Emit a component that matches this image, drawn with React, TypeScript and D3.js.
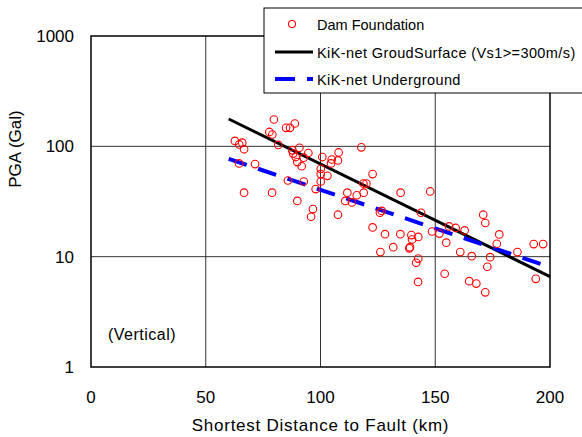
import React from 'react';
import * as d3 from 'd3';

// scatter: Dam Foundation (distance km, PGA Gal)
const damX = [
  79.7, 77.7, 79.0, 85.0, 86.7, 88.8, 62.7, 65.9, 64.6, 66.7, 81.6, 90.8, 87.7, 88.1, 94.7,
  92.7, 89.2, 89.9, 91.8, 100.8, 104.9, 104.6, 100.1, 100.1, 103.0, 100.1, 64.5, 71.5, 85.8,
  92.7, 97.9, 66.7, 78.9, 89.9, 96.7, 95.9, 117.8, 107.9, 107.6, 122.7, 118.7, 120.0, 118.8,
  111.7, 115.8, 110.8, 113.7, 134.9, 147.8, 107.6, 126.7, 125.9, 143.8, 122.7, 128.1, 134.8,
  139.6, 142.6, 139.9, 148.6, 151.8, 131.7, 139.0, 138.7, 126.1, 142.6, 141.7, 142.5, 170.9,
  171.8, 156.0, 158.9, 162.8, 177.9, 154.8, 176.8, 192.9, 197.0, 160.9, 185.8, 165.9, 173.9,
  172.7, 154.1, 193.8, 164.8, 167.9, 171.8,
];
const damY = [
  175, 135, 128, 147, 147, 161, 112, 108, 104, 94, 103, 97, 92, 86, 87,
  79, 80, 72, 66, 80, 76, 70, 62.5, 56, 54, 48, 70, 69, 49,
  48, 41, 38, 38, 32, 27, 23, 98, 88, 74.5, 56, 46, 46, 38,
  38, 36, 32, 31, 38, 39, 24, 26, 25, 25, 18.4, 16, 16,
  15.7, 15.1, 14.3, 16.9, 16.2, 12.2, 12.2, 11.9, 11, 9.6, 8.8, 5.9, 24,
  20.2, 18.8, 18.2, 17.3, 15.9, 13.4, 13.1, 13.0, 13.0, 11, 11, 10.1, 9.9,
  8.1, 7.0, 6.3, 6.0, 5.7, 4.75,
];

// regression lines (end points)
const surfX = [60, 200];
const surfY = [177, 6.6];
const underX = [60, 200];
const underY = [77, 8.05];

const xTicks = [0, 50, 100, 150, 200];
const yTicks = [1, 10, 100, 1000];
const legendLabels = [
  'Dam Foundation',
  'KiK-net GroudSurface (Vs1>=300m/s)',
  'KiK-net Underground',
];

const W = 582;
const H = 437;
const left = 91;
const right = 550;
const top = 36;
const bottom = 367;
const font = '"Liberation Sans", Arial, sans-serif';

export default function App() {
  const x = d3.scaleLinear().domain([0, 200]).range([left, right]);
  const y = d3.scaleLog().domain([1, 1000]).range([bottom, top]);

  const line = d3
    .line<[number, number]>()
    .x(d => x(d[0]))
    .y(d => y(d[1]));

  const surf = surfX.map((v, i) => [v, surfY[i]] as [number, number]);
  const under = underX.map((v, i) => [v, underY[i]] as [number, number]);

  return (
    <svg
      width={W}
      height={H}
      style={{ position: 'absolute', left: 0, top: 0, background: '#fff' }}
      fontFamily={font}
    >
      <rect width={W} height={H} fill="#fff" />
      {/* grid */}
      {xTicks.slice(1, -1).map(t => (
        <line key={'gx' + t} x1={x(t)} x2={x(t)} y1={top} y2={bottom} stroke="#333" strokeWidth={1} />
      ))}
      {yTicks.slice(1, -1).map(t => (
        <line key={'gy' + t} x1={left} x2={right} y1={y(t)} y2={y(t)} stroke="#333" strokeWidth={1} />
      ))}
      <rect x={left} y={top} width={right - left} height={bottom - top} fill="none" stroke="#000" strokeWidth={1.5} />

      {/* lines */}
      <path d={line(surf) || ''} fill="none" stroke="#000" strokeWidth={3} />
      <path d={line(under) || ''} fill="none" stroke="#0000ff" strokeWidth={4} strokeDasharray="19,12" />

      {/* points */}
      {damX.map((v, i) => (
        <circle key={i} cx={x(v)} cy={y(damY[i])} r={3.8} fill="none" stroke="#ff0000" strokeWidth={1.1} />
      ))}

      {/* tick labels */}
      {yTicks.map(t => (
        <text key={'ty' + t} x={74} y={y(t)} dy="0.35em" textAnchor="end" fontSize={17}>
          {t}
        </text>
      ))}
      {xTicks.map(t => (
        <text key={'tx' + t} x={x(t)} y={397} dy="0.35em" textAnchor="middle" fontSize={17}>
          {t}
        </text>
      ))}
      <text x={(left + right) / 2} y={425} dy="0.35em" textAnchor="middle" fontSize={17} letterSpacing={0.75}>
        Shortest Distance to Fault (km)
      </text>
      <text transform="translate(15,149) rotate(-90)" dy="0.35em" textAnchor="middle" fontSize={17}>
        PGA (Gal)
      </text>
      <text x={108} y={334} dy="0.35em" fontSize={16} letterSpacing={0.5}>
        (Vertical)
      </text>

      {/* legend */}
      <rect x={264} y={8} width={330} height={85} fill="#fff" stroke="#000" strokeWidth={1} />
      <circle cx={292} cy={24} r={3.5} fill="none" stroke="#ff0000" strokeWidth={1.1} />
      <line x1={275} x2={313} y1={52} y2={52} stroke="#000" strokeWidth={3} />
      <line x1={275} x2={313} y1={79} y2={79} stroke="#0000ff" strokeWidth={4} strokeDasharray="20,12" />
      {legendLabels.map((s, i) => (
        <text key={s} x={317} y={25 + i * 27.5} dy="0.35em" fontSize={14.5} letterSpacing={i === 0 ? 0 : 0.4}>
          {s}
        </text>
      ))}
    </svg>
  );
}
